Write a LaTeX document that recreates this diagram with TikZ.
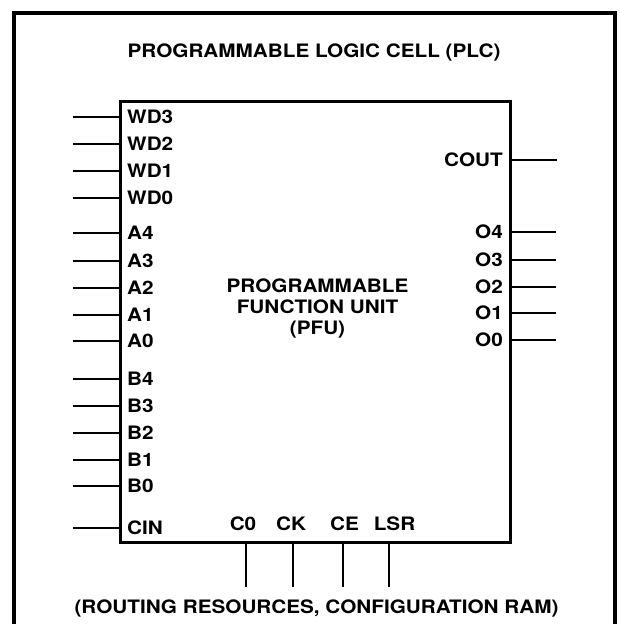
\documentclass[tikz,border=0pt]{standalone}
\usepackage{fontspec}
\setmainfont{TeX Gyre Heros}[FakeStretch=1.12]
\usetikzlibrary{positioning, calc}
\newcommand{\plcfont}{\fontsize{18.5pt}{21pt}\selectfont\bfseries}
\tikzset{
    cellframe/.style={draw, line width=3.2pt},
    pfubox/.style={draw, rectangle, line width=3pt, minimum width=390pt, minimum height=441pt, inner sep=0pt},
    pinlabel/.style={font=\plcfont, inner sep=0pt},
    leftpin/.style={pinlabel, anchor=west},
    rightpin/.style={pinlabel, anchor=east},
    bottompin/.style={pinlabel, anchor=center},
    pinwire/.style={line width=1.8pt},
    caption/.style={font=\plcfont, inner sep=0pt, anchor=base},
}
\begin{document}
\begin{tikzpicture}[x=1pt, y=-1pt]
    \useasboundingbox (0,0) rectangle (619,624);

    % Cell frame (runs past the bottom edge)
    \draw[cellframe] (14,640) -- (14,13) -- (615,13) -- (615,640);
    \node[caption] (plctitle) at (314,57) {PROGRAMMABLE LOGIC CELL (PLC)};

    % PFU
    \node[pfubox] (pfu) at (315,321.5) {};
    \node[pinlabel, align=center, anchor=north] (pfutext) at (317.5,278.5) {PROGRAMMABLE\\FUNCTION UNIT\\(PFU)};

    % Left inputs
    \coordinate (wd3in) at (73,117);
    \node[leftpin] (wd3) at (127,117) {WD3};
    \draw[pinwire] (wd3in) -- (wd3in -| pfu.west);
    \coordinate (wd2in) at (73,144);
    \node[leftpin] (wd2) at (127,144) {WD2};
    \draw[pinwire] (wd2in) -- (wd2in -| pfu.west);
    \coordinate (wd1in) at (73,171);
    \node[leftpin] (wd1) at (127,171) {WD1};
    \draw[pinwire] (wd1in) -- (wd1in -| pfu.west);
    \coordinate (wd0in) at (73,198);
    \node[leftpin] (wd0) at (127,198) {WD0};
    \draw[pinwire] (wd0in) -- (wd0in -| pfu.west);

    \coordinate (a4in) at (73,233);
    \node[leftpin] (a4) at (127,233) {A4};
    \draw[pinwire] (a4in) -- (a4in -| pfu.west);
    \coordinate (a3in) at (73,261);
    \node[leftpin] (a3) at (127,261) {A3};
    \draw[pinwire] (a3in) -- (a3in -| pfu.west);
    \coordinate (a2in) at (73,288);
    \node[leftpin] (a2) at (127,288) {A2};
    \draw[pinwire] (a2in) -- (a2in -| pfu.west);
    \coordinate (a1in) at (73,315);
    \node[leftpin] (a1) at (127,315) {A1};
    \draw[pinwire] (a1in) -- (a1in -| pfu.west);
    \coordinate (a0in) at (73,341);
    \node[leftpin] (a0) at (127,341) {A0};
    \draw[pinwire] (a0in) -- (a0in -| pfu.west);

    \coordinate (b4in) at (73,379);
    \node[leftpin] (b4) at (127,379) {B4};
    \draw[pinwire] (b4in) -- (b4in -| pfu.west);
    \coordinate (b3in) at (73,406);
    \node[leftpin] (b3) at (127,406) {B3};
    \draw[pinwire] (b3in) -- (b3in -| pfu.west);
    \coordinate (b2in) at (73,433);
    \node[leftpin] (b2) at (127,433) {B2};
    \draw[pinwire] (b2in) -- (b2in -| pfu.west);
    \coordinate (b1in) at (73,460);
    \node[leftpin] (b1) at (127,460) {B1};
    \draw[pinwire] (b1in) -- (b1in -| pfu.west);
    \coordinate (b0in) at (73,486);
    \node[leftpin] (b0) at (127,486) {B0};
    \draw[pinwire] (b0in) -- (b0in -| pfu.west);

    \coordinate (cinin) at (73,528);
    \node[leftpin] (cin) at (127,528) {CIN};
    \draw[pinwire] (cinin) -- (cinin -| pfu.west);

    % Right outputs
    \coordinate (coutout) at (557,160);
    \node[rightpin] (cout) at (503,160) {COUT};
    \draw[pinwire] (coutout -| pfu.east) -- (coutout);
    \coordinate (o4out) at (556,232);
    \node[rightpin] (o4) at (503,232) {O4};
    \draw[pinwire] (o4out -| pfu.east) -- (o4out);
    \coordinate (o3out) at (556,260);
    \node[rightpin] (o3) at (503,260) {O3};
    \draw[pinwire] (o3out -| pfu.east) -- (o3out);
    \coordinate (o2out) at (556,287);
    \node[rightpin] (o2) at (503,287) {O2};
    \draw[pinwire] (o2out -| pfu.east) -- (o2out);
    \coordinate (o1out) at (556,313);
    \node[rightpin] (o1) at (503,313) {O1};
    \draw[pinwire] (o1out -| pfu.east) -- (o1out);
    \coordinate (o0out) at (556,340);
    \node[rightpin] (o0) at (503,340) {O0};
    \draw[pinwire] (o0out -| pfu.east) -- (o0out);

    % Bottom controls
    \node[bottompin] (c0) at (243,523.5) {C0};
    \coordinate (c0in) at (246,587);
    \draw[pinwire] (c0in) -- (c0in |- pfu.south);
    \node[bottompin] (ck) at (291,523.5) {CK};
    \coordinate (ckin) at (293,587);
    \draw[pinwire] (ckin) -- (ckin |- pfu.south);
    \node[bottompin] (ce) at (344.5,523.5) {CE};
    \coordinate (cein) at (343,587);
    \draw[pinwire] (cein) -- (cein |- pfu.south);
    \node[bottompin] (lsr) at (394.5,523.5) {LSR};
    \coordinate (lsrin) at (389,587);
    \draw[pinwire] (lsrin) -- (lsrin |- pfu.south);

    \node[caption] (routing) at (316.5,613) {(ROUTING RESOURCES, CONFIGURATION RAM)};
\end{tikzpicture}
\end{document}
